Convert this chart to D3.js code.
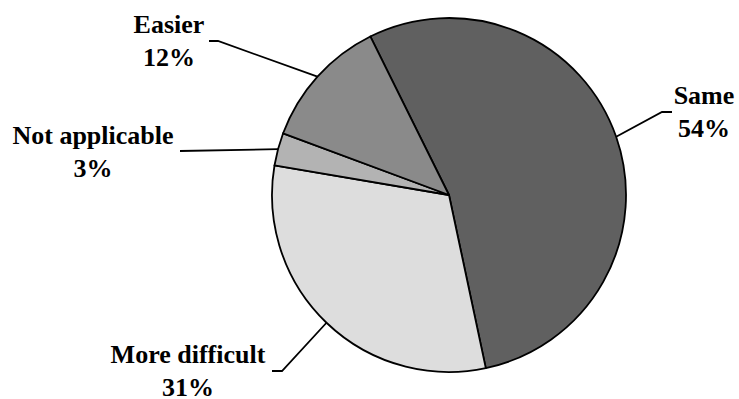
<!DOCTYPE html>
<html>
<head>
<meta charset="utf-8">
<script src="https://cdn.jsdelivr.net/npm/d3@7"></script>
<style>
  html, body { margin: 0; padding: 0; background: #fff; }
  svg { display: block; }
</style>
</head>
<body>
<svg id="chart" width="739" height="399"></svg>
<script>
// Data
const categories = ["Same", "More difficult", "Not applicable", "Easier"];
const values = [54, 31, 3, 12];
const percentLabels = ["54%", "31%", "3%", "12%"];

// Styling / layout (kept separate from data)
const colors = ["#606060", "#dddddd", "#b3b3b3", "#8a8a8a"];
const cx = 449, cy = 195, R = 177;
const startDeg = -26.4;
const FONT = "'Liberation Serif', 'Times New Roman', serif";
// label anchor (text center x, first baseline y) and elbow points for leaders
const labelLayout = [
  { x: 704, y: 104, elbow: [662, 112], end: [672, 112] },
  { x: 188, y: 363, elbow: [282, 371], end: [272, 371] },
  { x: 93,  y: 144, elbow: [180, 151], end: [180, 151] },
  { x: 169, y: 33,  elbow: [218, 41],  end: [209, 41] }
];

const svg = d3.select("#chart");
const g = svg.append("g").attr("transform", `translate(${cx},${cy})`);

const start = startDeg * Math.PI / 180;
const pie = d3.pie().sort(null).value(d => d.v).startAngle(start).endAngle(start + 2 * Math.PI);
const data = categories.map((c, i) => ({ c, v: values[i], p: percentLabels[i], i }));
const arcs = pie(data);
const arc = d3.arc().innerRadius(0).outerRadius(R);

g.selectAll("path.slice")
  .data(arcs)
  .enter().append("path")
  .attr("d", arc)
  .attr("fill", d => colors[d.data.i])
  .attr("stroke", "#000")
  .attr("stroke-width", 1.8)
  .attr("stroke-linejoin", "round");

// leader lines
arcs.forEach(a => {
  const L = labelLayout[a.data.i];
  const mid = (a.startAngle + a.endAngle) / 2;
  const px = cx + R * Math.sin(mid);
  const py = cy - R * Math.cos(mid);
  svg.append("polyline")
    .attr("points", [[px, py], L.elbow, L.end].map(p => p.join(",")).join(" "))
    .attr("fill", "none")
    .attr("stroke", "#000")
    .attr("stroke-width", 1.8);
});

// labels
arcs.forEach(a => {
  const L = labelLayout[a.data.i];
  const t = svg.append("text")
    .attr("text-anchor", "middle")
    .style("font-family", FONT)
    .style("font-weight", "bold")
    .style("font-size", "26px")
    .attr("fill", "#000");
  t.append("tspan").attr("x", L.x).attr("y", L.y).text(a.data.c);
  t.append("tspan").attr("x", L.x).attr("y", L.y + 33).text(a.data.p);
});
</script>
</body>
</html>
